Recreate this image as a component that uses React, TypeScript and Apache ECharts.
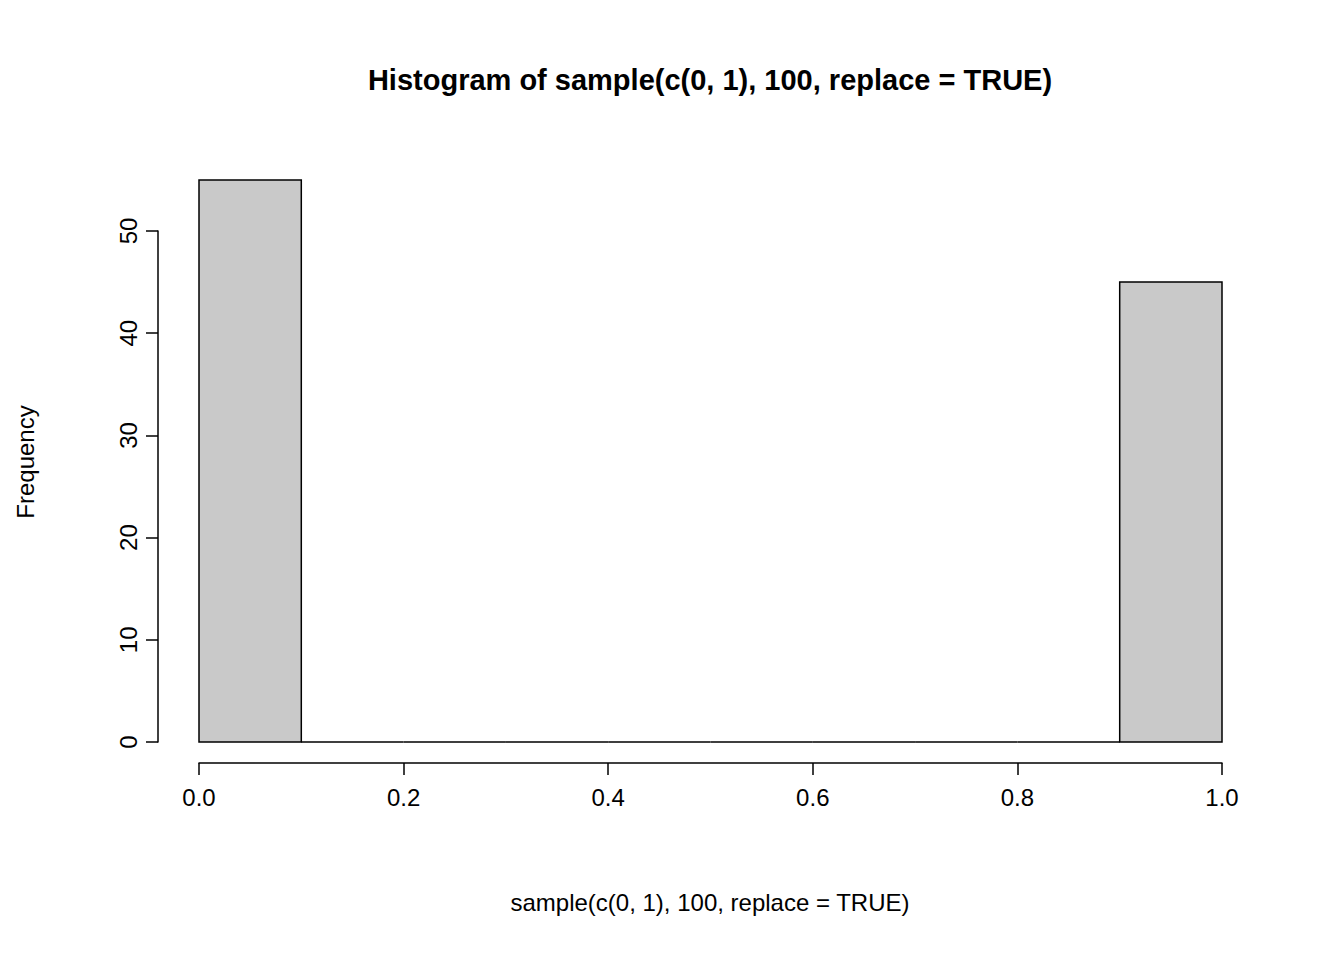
import { useEffect, useRef } from 'react';
import * as echarts from 'echarts';

const binStarts = [0, 0.1, 0.2, 0.3, 0.4, 0.5, 0.6, 0.7, 0.8, 0.9];
const binEnds = [0.1, 0.2, 0.3, 0.4, 0.5, 0.6, 0.7, 0.8, 0.9, 1.0];
const counts = [55, 0, 0, 0, 0, 0, 0, 0, 0, 45];

const FONT = "'Liberation Sans', Arial, Helvetica, sans-serif";

export default function App() {
  const ref = useRef<HTMLDivElement>(null);

  useEffect(() => {
    if (!ref.current) return;
    const chart = echarts.init(ref.current, null, { renderer: 'svg' });
    chart.setOption({
      animation: false,
      backgroundColor: '#ffffff',
      grid: { left: 199, right: 122, top: 231, bottom: 218 },
      xAxis: {
        type: 'value', min: 0, max: 1, interval: 0.2, offset: 21,
        axisLine: { show: true, onZero: false, lineStyle: { color: '#000', width: 1.5 } },
        axisTick: { show: true, length: 12, lineStyle: { color: '#000', width: 1.5 } },
        axisLabel: { color: '#000', fontSize: 24, fontFamily: FONT, margin: 22, formatter: (v: number) => v.toFixed(1) },
        splitLine: { show: false },
      },
      yAxis: {
        type: 'value', min: 0, max: 50, interval: 10, offset: 41,
        axisLine: { show: true, onZero: false, lineStyle: { color: '#000', width: 1.5 } },
        axisTick: { show: true, length: 12, lineStyle: { color: '#000', width: 1.5 } },
        axisLabel: { color: '#000', fontSize: 24, fontFamily: FONT, rotate: 90, margin: 18 },
        splitLine: { show: false },
      },
      graphic: [
        { type: 'text', x: 710, y: 80, style: { text: 'Histogram of sample(c(0, 1), 100, replace = TRUE)', fontSize: 29, fontWeight: 'bold', fontFamily: FONT, fill: '#000', textAlign: 'center', textVerticalAlign: 'middle' } },
        { type: 'text', x: 710, y: 902, style: { text: 'sample(c(0, 1), 100, replace = TRUE)', fontSize: 24, fontFamily: FONT, fill: '#000', textAlign: 'center', textVerticalAlign: 'middle' } },
        { type: 'text', x: 25, y: 462, rotation: Math.PI / 2, style: { text: 'Frequency', fontSize: 24, fontFamily: FONT, fill: '#000', textAlign: 'center', textVerticalAlign: 'middle' } },
      ],
      series: [{
        type: 'custom',
        clip: false,
        data: binStarts.map((s, i) => [s, binEnds[i], counts[i]]),
        renderItem: (_p: any, api: any) => {
          const a = api.coord([api.value(0), 0]);
          const b = api.coord([api.value(1), api.value(2)]);
          return {
            type: 'polygon',
            shape: { points: [[a[0], a[1]], [b[0], a[1]], [b[0], b[1]], [a[0], b[1]]] },
            style: { fill: '#c9c9c9', stroke: '#000', lineWidth: 1.5 },
          };
        },
      }],
    });
    return () => chart.dispose();
  }, []);

  return <div ref={ref} style={{ position: 'absolute', left: 0, top: 0, width: 1344, height: 960 }} />;
}
